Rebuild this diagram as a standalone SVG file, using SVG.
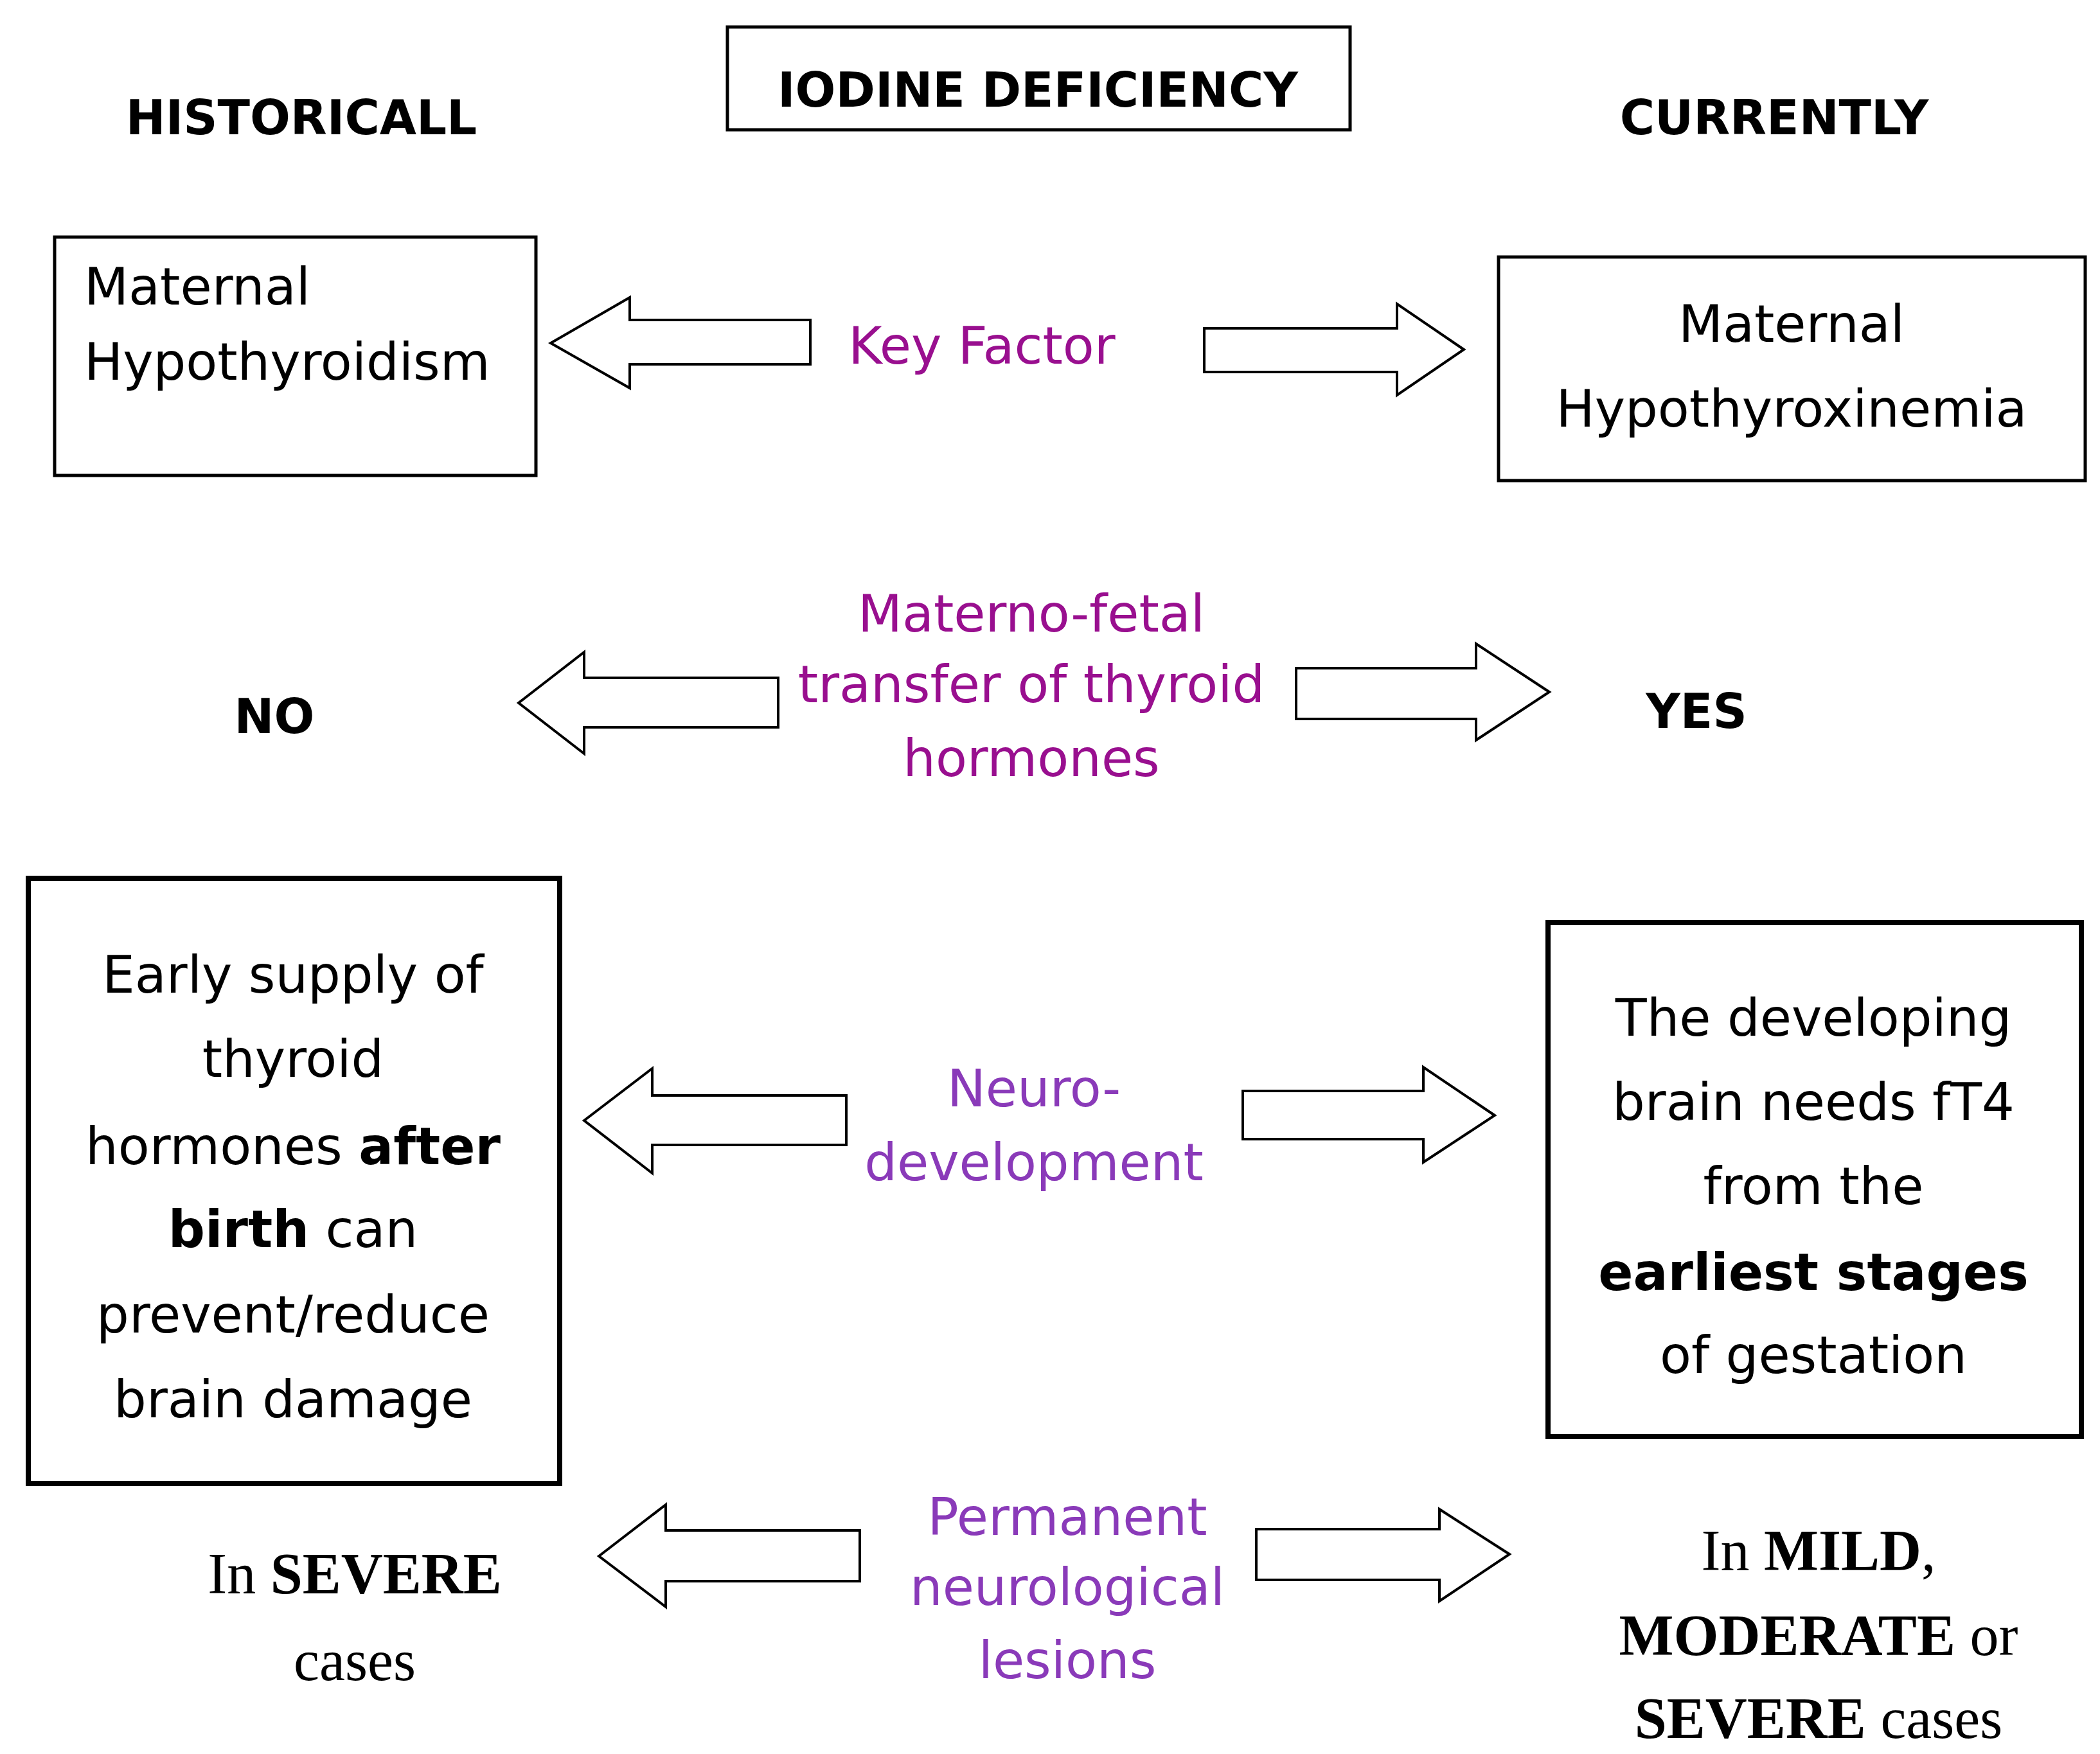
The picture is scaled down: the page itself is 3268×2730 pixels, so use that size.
<svg xmlns="http://www.w3.org/2000/svg" width="3268" height="2730" viewBox="0 0 3268 2730">
<style>
text{font-family:"DejaVu Sans","Noto Sans",sans-serif;font-size:80px;fill:#000;dominant-baseline:central}
.c{text-anchor:middle}
.h{font-weight:bold;font-size:74px}
.p1{fill:#990f8f}
.p2{fill:#8a3ab9}
.s{font-family:"Liberation Serif",serif;font-size:90px}
.box{fill:#fff;stroke:#000;stroke-width:5}
.arr{fill:#fff;stroke:#000;stroke-width:4;stroke-linejoin:miter}
.b{font-weight:bold}
</style>
<rect width="3268" height="2730" fill="#fff"/>
<g id="title"><rect class="box" x="1132" y="42" width="969" height="160"/><text class="c h" x="1615" y="140">IODINE DEFICIENCY</text></g>
<g id="historicall"><text class="c h" x="469" y="183">HISTORICALL</text></g>
<g id="currently"><text class="c h" x="2761" y="183">CURRENTLY</text></g>
<g id="hypothyroidism"><rect class="box" x="85" y="369" width="749" height="371"/><text x="131" y="446">Maternal</text><text x="131" y="563">Hypothyroidism</text></g>
<g id="hypothyroxinemia"><rect class="box" x="2332" y="400" width="913" height="348"/><text class="c" x="2788" y="504">Maternal</text><text class="c" x="2788" y="636">Hypothyroxinemia</text></g>
<g id="keyfactor"><text class="c p1" x="1528" y="538">Key Factor</text></g>
<g id="transfer"><text class="c p1" x="1605" y="955">Materno-fetal</text><text class="c p1" x="1605" y="1065">transfer of thyroid</text><text class="c p1" x="1605" y="1180">hormones</text></g>
<g id="no"><text class="c h" x="427" y="1115">NO</text></g>
<g id="yes"><text class="c h" x="2640" y="1107">YES</text></g>
<g id="early"><rect class="box" style="stroke-width:8" x="44" y="1367" width="827" height="942"/>
<text class="c" x="456" y="1517">Early supply of</text><text class="c" x="456" y="1648">thyroid</text><text class="c" x="456" y="1784">hormones <tspan class="b">after</tspan></text><text class="c" x="456" y="1913"><tspan class="b">birth</tspan> can</text><text class="c" x="456" y="2046">prevent/reduce</text><text class="c" x="456" y="2178">brain damage</text></g>
<g id="developing"><rect class="box" style="stroke-width:8" x="2409" y="1436" width="830" height="800"/>
<text class="c" x="2822" y="1584">The developing</text><text class="c" x="2822" y="1715">brain needs fT4</text><text class="c" x="2822" y="1846">from the</text><text class="c b" x="2822" y="1980">earliest stages</text><text class="c" x="2822" y="2109">of gestation</text></g>
<g id="neuro"><text class="c p2" x="1609" y="1694">Neuro-</text><text class="c p2" x="1609" y="1809">development</text></g>
<g id="lesions"><text class="c p2" x="1661" y="2361">Permanent</text><text class="c p2" x="1661" y="2470">neurological</text><text class="c p2" x="1661" y="2584">lesions</text></g>
<g id="severe"><text class="c s" x="552" y="2449">In <tspan class="b">SEVERE</tspan></text><text class="c s" x="552" y="2584">cases</text></g>
<g id="mild"><text class="c s" x="2830" y="2413">In <tspan class="b">MILD</tspan>,</text><text class="c s" x="2830" y="2545"><tspan class="b">MODERATE</tspan> or</text><text class="c s" x="2830" y="2674"><tspan class="b">SEVERE</tspan> cases</text></g>
<g id="connectors">
<polygon class="arr" points="857,534 980,463 980,498 1261,498 1261,567 980,567 980,604"/>
<polygon class="arr" points="2278,544 2174,473 2174,511 1874,511 1874,579 2174,579 2174,615"/>
<polygon class="arr" points="807,1094 909,1015 909,1055 1211,1055 1211,1132 909,1132 909,1173"/>
<polygon class="arr" points="2411,1077 2297,1002 2297,1040 2017,1040 2017,1119 2297,1119 2297,1152"/>
<polygon class="arr" points="909,1744 1015,1663 1015,1705 1317,1705 1317,1782 1015,1782 1015,1826"/>
<polygon class="arr" points="2326,1736 2215,1661 2215,1698 1934,1698 1934,1773 2215,1773 2215,1809"/>
<polygon class="arr" points="932,2422 1036,2342 1036,2382 1338,2382 1338,2461 1036,2461 1036,2501"/>
<polygon class="arr" points="2349,2419 2240,2349 2240,2380 1955,2380 1955,2459 2240,2459 2240,2492"/>
</g>
</svg>
